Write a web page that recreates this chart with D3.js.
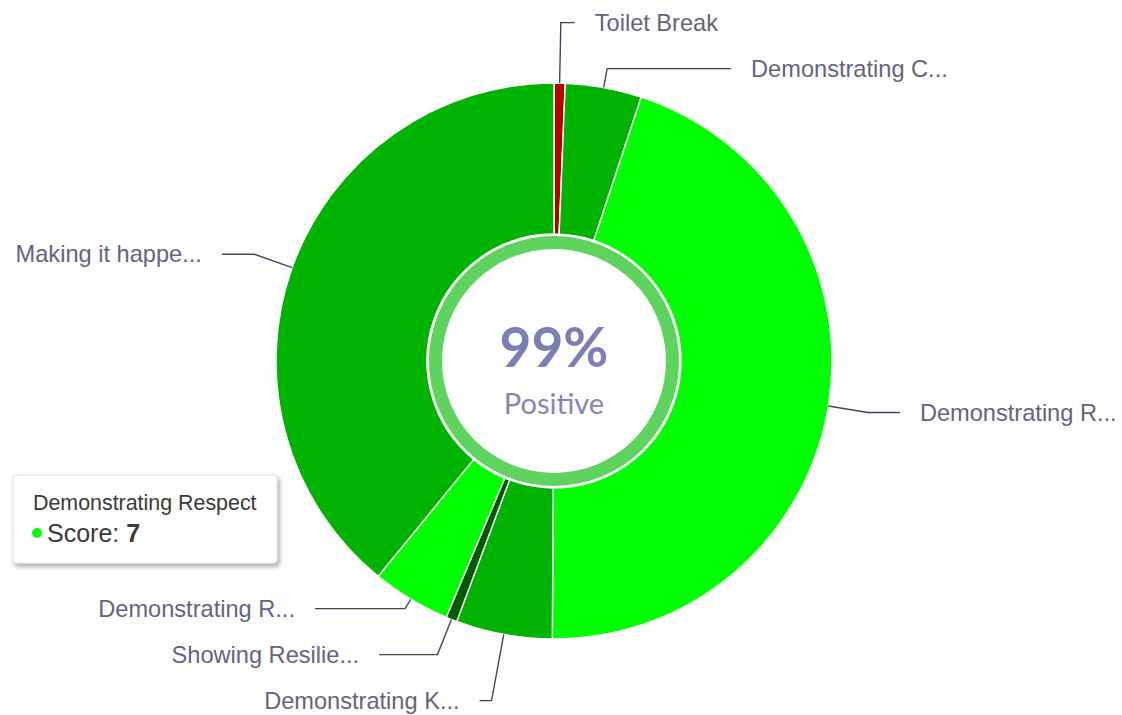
<!DOCTYPE html>
<html>
<head>
<meta charset="utf-8">
<script src="https://cdn.jsdelivr.net/npm/d3@7"></script>
<style>
      html, body { margin: 0; padding: 0; background: #fff; }
      svg { display: block; }
</style>
</head>
<body>
<svg id="chart" width="1122" height="715"></svg>
<script>
const categories = ["Toilet Break", "Demonstrating Collaboration", "Demonstrating Respect", "Demonstrating Knowledge",
      "Showing Resilience", "Demonstrating Responsibility", "Making it happen"];
const scores = [0.1, 0.69, 7, 0.87, 0.1, 0.71, 6.08];
const colors = ["#b30000", "#00b300", "#00ff00", "#00b300", "#005a00", "#00ff00", "#00b300"];
const positive = 99;
const hovered = "Demonstrating Respect";

const width = 1122, height = 715;
const cx = 554, cy = 361;
const outerR = 278, innerR = 127;
const labelDist = 40, gap = 46;
const ringA = 350, ringB = 339;

const svg = d3.select("#chart");
const data = categories.map((c, i) => ({ name: c, score: scores[i], color: colors[i] }));

const pie = d3.pie().sort(null).value(d => d.score);
const arcs = pie(data);
const arc = d3.arc().innerRadius(innerR).outerRadius(outerR);

const g = svg.append("g").attr("transform", `translate(${cx},${cy})`);

g.selectAll("path.slice")
      .data(arcs)
      .join("path")
      .attr("class", "slice")
      .attr("d", arc)
      .attr("fill", d => d.data.color)
      .attr("stroke", "#fff")
      .attr("stroke-width", 1.4);

// inner ring
g.append("path")
      .attr("d", d3.arc().innerRadius(112).outerRadius(125).startAngle(0).endAngle(2 * Math.PI)())
      .attr("fill", "#5ed45e");

g.append("text")
      .attr("y", 6)
      .attr("text-anchor", "middle")
      .attr("font-family", "Lato, 'Open Sans', sans-serif")
      .attr("font-weight", 700)
      .attr("font-size", 55)
      .attr("fill", "#7b7fb5")
      .text(positive + "%");

g.append("text")
      .attr("y", 53)
      .attr("text-anchor", "middle")
      .attr("font-family", "Lato, 'Open Sans', sans-serif")
      .attr("font-size", 29)
      .attr("fill", "#8286b8")
      .text("Positive");

// labels
const labels = arcs.map(d => {
      const mid = (d.startAngle + d.endAngle) / 2;
      return {
            name: d.data.name,
            mid: mid,
            right: mid < Math.PI,
            ny: -Math.cos(mid) * (outerR + labelDist)
      };
});

function spread(items) {
      items.sort((a, b) => a.ny - b.ny);
      let groups = items.map(d => ({ items: [d], sum: d.ny }));
      let merged = true;
      while (merged) {
            merged = false;
            for (let i = 0; i < groups.length - 1; i++) {
                  const a = groups[i], b = groups[i + 1];
                  const aBottom = a.sum / a.items.length + (a.items.length - 1) * gap / 2;
                  const bTop = b.sum / b.items.length - (b.items.length - 1) * gap / 2;
                  if (bTop - aBottom < gap) {
                        groups.splice(i, 2, { items: a.items.concat(b.items), sum: a.sum + b.sum });
                        merged = true;
                        break;
                  }
            }
      }
      groups.forEach(gr => {
            const top = gr.sum / gr.items.length - (gr.items.length - 1) * gap / 2;
            gr.items.forEach((d, i) => d.y = top + i * gap);
      });
}

spread(labels.filter(d => d.right));
spread(labels.filter(d => !d.right));

const short = s => s.length > 15 ? s.slice(0, 15) + "..." : s;

labels.forEach(d => {
      const sx = Math.sin(d.mid) * outerR, sy = -Math.cos(d.mid) * outerR;
      let t = -d.y / Math.cos(d.mid);
      t = Math.max(outerR + 8, Math.min(t, outerR + 70));
      const bx = Math.sin(d.mid) * t, by = -Math.cos(d.mid) * t;
      const k = Math.abs(d.y) >= ringB ? 0 : ringA * Math.sqrt(1 - (d.y / ringB) ** 2);
      const ex = d.right ? Math.max(k, bx + 12) : Math.min(-k, bx - 12);

      g.append("path")
            .attr("d", d3.line()([[sx, sy], [bx, by], [ex, d.y]]))
            .attr("fill", "none")
            .attr("stroke", "#45455f")
            .attr("stroke-width", 1.4);

      g.append("text")
            .attr("x", d.right ? ex + 20 : ex - 20)
            .attr("y", d.y)
            .attr("dy", "0.35em")
            .attr("text-anchor", d.right ? "start" : "end")
            .attr("font-family", "'Liberation Sans', Arial, sans-serif")
            .attr("font-size", 23.6)
            .attr("fill", "#64647f")
            .text(short(d.name));
});

// tooltip
const defs = svg.append("defs");
const shadow = defs.append("filter").attr("id", "shadow").attr("x", "-10%").attr("y", "-10%").attr("width", "130%").attr("height", "140%");
shadow.append("feDropShadow").attr("dx", 2).attr("dy", 3).attr("stdDeviation", 2.5).attr("flood-color", "#000").attr("flood-opacity", 0.35);

const hit = data.find(d => d.name == hovered);
const tip = svg.append("g").attr("transform", "translate(13,475)");
tip.append("rect")
      .attr("width", 264)
      .attr("height", 88)
      .attr("rx", 3)
      .attr("fill", "#fff")
      .attr("stroke", "#e4e4e4")
      .attr("filter", "url(#shadow)");
tip.append("text")
      .attr("x", 20)
      .attr("y", 35)
      .attr("font-family", "'Liberation Sans', Arial, sans-serif")
      .attr("font-size", 21.4)
      .attr("fill", "#3a3a3a")
      .text(hit.name);
tip.append("circle")
      .attr("cx", 24)
      .attr("cy", 58)
      .attr("r", 5)
      .attr("fill", hit.color);
const line2 = tip.append("text")
      .attr("x", 34)
      .attr("y", 67)
      .attr("font-family", "'Liberation Sans', Arial, sans-serif")
      .attr("font-size", 25)
      .attr("fill", "#3a3a3a");
line2.append("tspan").text("Score: ");
line2.append("tspan").attr("font-weight", 700).text(hit.score);
</script>
</body>
</html>
